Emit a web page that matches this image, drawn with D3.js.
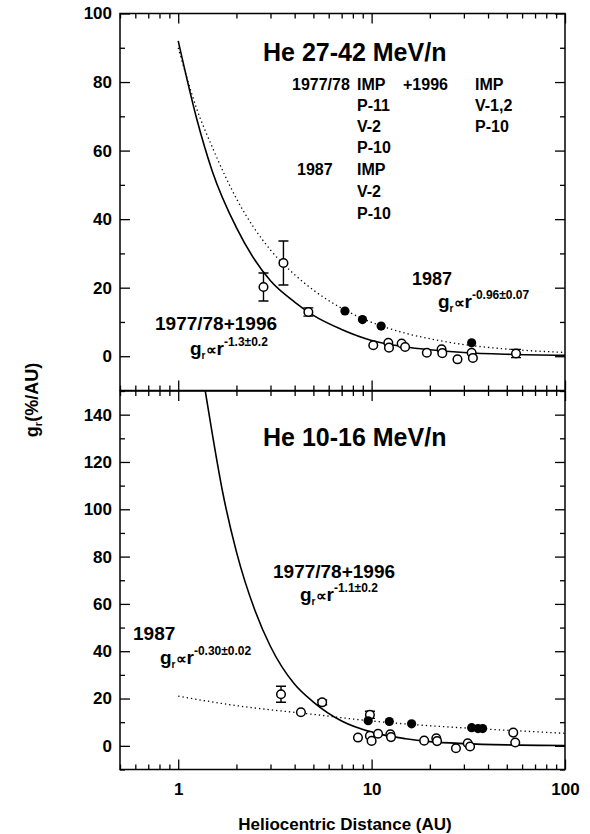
<!DOCTYPE html>
<html>
<head>
<meta charset="utf-8">
<script src="https://cdn.jsdelivr.net/npm/d3@7"></script>
<style>
body { margin: 0; background: #fff; }
text { font-family: "Liberation Sans", Arial, sans-serif; font-weight: bold; fill: #000; }
.tick text { font-size: 17px; }
.tick line { stroke: #000; stroke-width: 1.3px; }
</style>
</head>
<body>
<svg id="chart" width="590" height="834"></svg>
<script>
// values: [r (AU), g_r (%/AU), half error bar (0 = none)]
var upOpen = [[2.76, 20.2, 4.1], [3.5, 27.2, 6.4], [4.71, 12.9, 1.2], [10.2, 3.2, 0], [12.2, 3.9, 0],
  [12.3, 2.5, 0], [14.3, 3.7, 0], [14.9, 2.7, 0], [19.3, 1.0, 0], [23.0, 2.0, 0], [23.2, 0.9, 0],
  [27.8, -0.9, 0], [32.9, 1.0, 0], [33.4, -0.5, 0], [55.8, 0.8, 1.2]];
var upFilled = [[7.28, 13.2], [8.97, 10.7], [11.2, 8.8], [32.9, 3.9]];
// fitted curves, sampled off the figure
var upFitAll = [[1, 92], [1.25, 69], [1.5, 54], [2, 37.5], [3, 22], [4, 15.8], [5, 11.9], [7, 7.8],
  [10, 4.6], [15, 2.7], [20, 1.9], [30, 1.1], [50, 0.57], [100, 0.25]];
var upFit87 = [[1, 90], [1.25, 72], [1.5, 61], [2, 46], [3, 31], [4, 23.8], [5, 19.3], [7, 14],
  [10, 9.9], [15, 6.7], [20, 5.1], [30, 3.4], [50, 2.1], [100, 1.1]];

var loOpen = [[3.4, 21.8, 3.4], [4.31, 14.2, 0], [5.55, 18.4, 1], [9.8, 13.1, 1.5], [8.5, 3.5, 0],
  [9.8, 4.2, 0], [10.0, 2.1, 0], [10.8, 5.1, 0], [12.5, 4.9, 0], [12.6, 3.7, 0], [18.7, 2.2, 0],
  [21.6, 3.2, 0], [21.8, 2.0, 0], [27.3, -1.0, 0], [31.4, 1.1, 0], [32.3, -0.3, 0], [54.0, 5.6, 0],
  [55.3, 1.4, 0]];
var loFilled = [[9.6, 10.6], [12.35, 10.3], [16.1, 9.3], [32.9, 7.7], [35.5, 7.3], [37.5, 7.3]];
var loFitAll = [[1.38, 150], [1.5, 132], [1.7, 107], [2, 82], [2.5, 57], [3, 42], [4, 26], [5, 18.5],
  [7, 10.5], [10, 5.8], [15, 3.0], [20, 1.8], [30, 0.95], [50, 0.4], [100, 0.13]];
var loFit87 = [[1, 21], [2, 17], [5, 13.3], [10, 10.5], [20, 8.5], [50, 6.6], [100, 5.3]];

var xLabels = [1, 10, 100];
var upYLabels = [0, 20, 40, 60, 80, 100];
var loYLabels = [0, 20, 40, 60, 80, 100, 120, 140];

var svg = d3.select("#chart");
var X0 = 120, X1 = 565;
var x = d3.scaleLog().domain([0.5, 100]).range([X0, X1]);
var yUp = d3.scaleLinear().domain([-10, 100]).range([390.5, 13.5]);
var yLo = d3.scaleLinear().domain([-10, 150]).range([769.5, 391]);

function clean(g) {
  g.select(".domain").remove();
  g.attr("font-family", null).attr("font-size", null);
}

function panel(id, y, yLabels, showX) {
  var top = y.range()[1], bot = y.range()[0];
  var minorY = d3.range(y.domain()[0], y.domain()[1] + 1, 10).filter(function(v) { return yLabels.indexOf(v) < 0; });
  var minorX = x.ticks().filter(function(v) { return xLabels.indexOf(v) < 0; });

  svg.append("g").attr("transform", "translate(" + X0 + ",0)")
    .call(d3.axisLeft(y).tickValues(yLabels).tickSize(-10).tickPadding(8).tickFormat(d3.format("d"))).call(clean);
  svg.append("g").attr("transform", "translate(" + X0 + ",0)")
    .call(d3.axisLeft(y).tickValues(minorY).tickSize(-5).tickFormat("")).call(clean);
  svg.append("g").attr("transform", "translate(" + X1 + ",0)")
    .call(d3.axisRight(y).tickValues(yLabels).tickSize(-10).tickFormat("")).call(clean);
  svg.append("g").attr("transform", "translate(" + X1 + ",0)")
    .call(d3.axisRight(y).tickValues(minorY).tickSize(-5).tickFormat("")).call(clean);

  svg.append("g").attr("transform", "translate(0," + top + ")")
    .call(d3.axisTop(x).tickValues(xLabels).tickSize(-10).tickFormat("")).call(clean);
  svg.append("g").attr("transform", "translate(0," + top + ")")
    .call(d3.axisTop(x).tickValues(minorX).tickSize(-5).tickFormat("")).call(clean);
  svg.append("g").attr("transform", "translate(0," + bot + ")")
    .call(d3.axisBottom(x).tickValues(xLabels).tickSize(-10).tickPadding(13)
      .tickFormat(showX ? d3.format("d") : "")).call(clean);
  svg.append("g").attr("transform", "translate(0," + bot + ")")
    .call(d3.axisBottom(x).tickValues(minorX).tickSize(-5).tickFormat("")).call(clean);

  svg.append("clipPath").attr("id", id).append("rect")
    .attr("x", X0).attr("y", top).attr("width", X1 - X0).attr("height", bot - top);
  svg.append("rect").attr("x", X0).attr("y", top).attr("width", X1 - X0).attr("height", bot - top)
    .attr("fill", "none").attr("stroke", "#000").attr("stroke-width", 1.5);
}

function curves(id, y, fitAll, fit87) {
  var line = d3.line().x(function(d) { return x(d[0]); }).y(function(d) { return y(d[1]); })
    .curve(d3.curveMonotoneX);
  var g = svg.append("g").attr("clip-path", "url(#" + id + ")");
  g.append("path").attr("d", line(fit87)).attr("fill", "none").attr("stroke", "#000")
    .attr("stroke-width", 1.3).attr("stroke-dasharray", "1.3,3");
  g.append("path").attr("d", line(fitAll)).attr("fill", "none").attr("stroke", "#000")
    .attr("stroke-width", 1.6);
}

function points(y, open, filled) {
  var g = svg.append("g");
  var eb = open.filter(function(d) { return d[2] > 0; });
  g.selectAll(".eb").data(eb).enter().append("path")
    .attr("d", function(d) {
      var cx = x(d[0]), a = y(d[1] + d[2]), b = y(d[1] - d[2]);
      return "M" + cx + "," + a + "V" + b + "M" + (cx - 5) + "," + a + "H" + (cx + 5) +
        "M" + (cx - 5) + "," + b + "H" + (cx + 5);
    })
    .attr("stroke", "#000").attr("stroke-width", 1.4).attr("fill", "none");
  g.selectAll(".op").data(open).enter().append("circle")
    .attr("cx", function(d) { return x(d[0]); }).attr("cy", function(d) { return y(d[1]); })
    .attr("r", 4.3).attr("fill", "#fff").attr("stroke", "#000").attr("stroke-width", 1.5);
  g.selectAll(".fp").data(filled).enter().append("circle")
    .attr("cx", function(d) { return x(d[0]); }).attr("cy", function(d) { return y(d[1]); })
    .attr("r", 4.6).attr("fill", "#000");
}

function txt(x0, y0, s, size) {
  return svg.append("text").attr("x", x0).attr("y", y0).style("font-size", size + "px").text(s);
}

function powerLabel(x0, y0, exp) {
  var t = svg.append("text").attr("x", x0).attr("y", y0).style("font-size", "19px");
  t.append("tspan").text("g");
  t.append("tspan").attr("dy", 4).style("font-size", "10px").text("r");
  t.append("tspan").attr("dy", -4).style("font-size", "15px").text("\u221d");
  t.append("tspan").text("r");
  t.append("tspan").attr("dy", -9).style("font-size", "12px").text(exp);
}

panel("clipUp", yUp, upYLabels, false);
panel("clipLo", yLo, loYLabels, true);
curves("clipUp", yUp, upFitAll, upFit87);
curves("clipLo", yLo, loFitAll, loFit87);
points(yUp, upOpen, upFilled);
points(yLo, loOpen, loFilled);

// upper panel annotations
txt(263, 61, "He 27-42 MeV/n", 25);
txt(292, 90, "1977/78", 16); txt(357, 90, "IMP", 16);
txt(357, 111, "P-11", 16); txt(357, 132, "V-2", 16); txt(357, 153, "P-10", 16);
txt(403, 90, "+1996", 16); txt(475, 90, "IMP", 16);
txt(475, 111, "V-1,2", 16); txt(475, 132, "P-10", 16);
txt(297, 175, "1987", 16); txt(357, 175, "IMP", 16);
txt(357, 197, "V-2", 16); txt(357, 219, "P-10", 16);
txt(412, 285, "1987", 18);
powerLabel(438, 308, "-0.96\u00b10.07");
txt(155, 330, "1977/78+1996", 19);
powerLabel(190, 355, "-1.3\u00b10.2");

// lower panel annotations
txt(263, 446, "He 10-16 MeV/n", 25);
txt(273, 578, "1977/78+1996", 19);
powerLabel(300, 601, "-1.1\u00b10.2");
txt(133, 640, "1987", 19);
powerLabel(160, 664, "-0.30\u00b10.02");

// axis titles
svg.append("text").attr("x", 345).attr("y", 830).attr("text-anchor", "middle")
  .style("font-size", "17px").text("Heliocentric Distance (AU)");
var yt = svg.append("text").attr("transform", "translate(38,400) rotate(-90)")
  .attr("text-anchor", "middle").style("font-size", "18px");
yt.append("tspan").text("g");
yt.append("tspan").attr("dy", 4).style("font-size", "11px").text("r");
yt.append("tspan").attr("dy", -4).text("(%/AU)");
</script>
</body>
</html>
